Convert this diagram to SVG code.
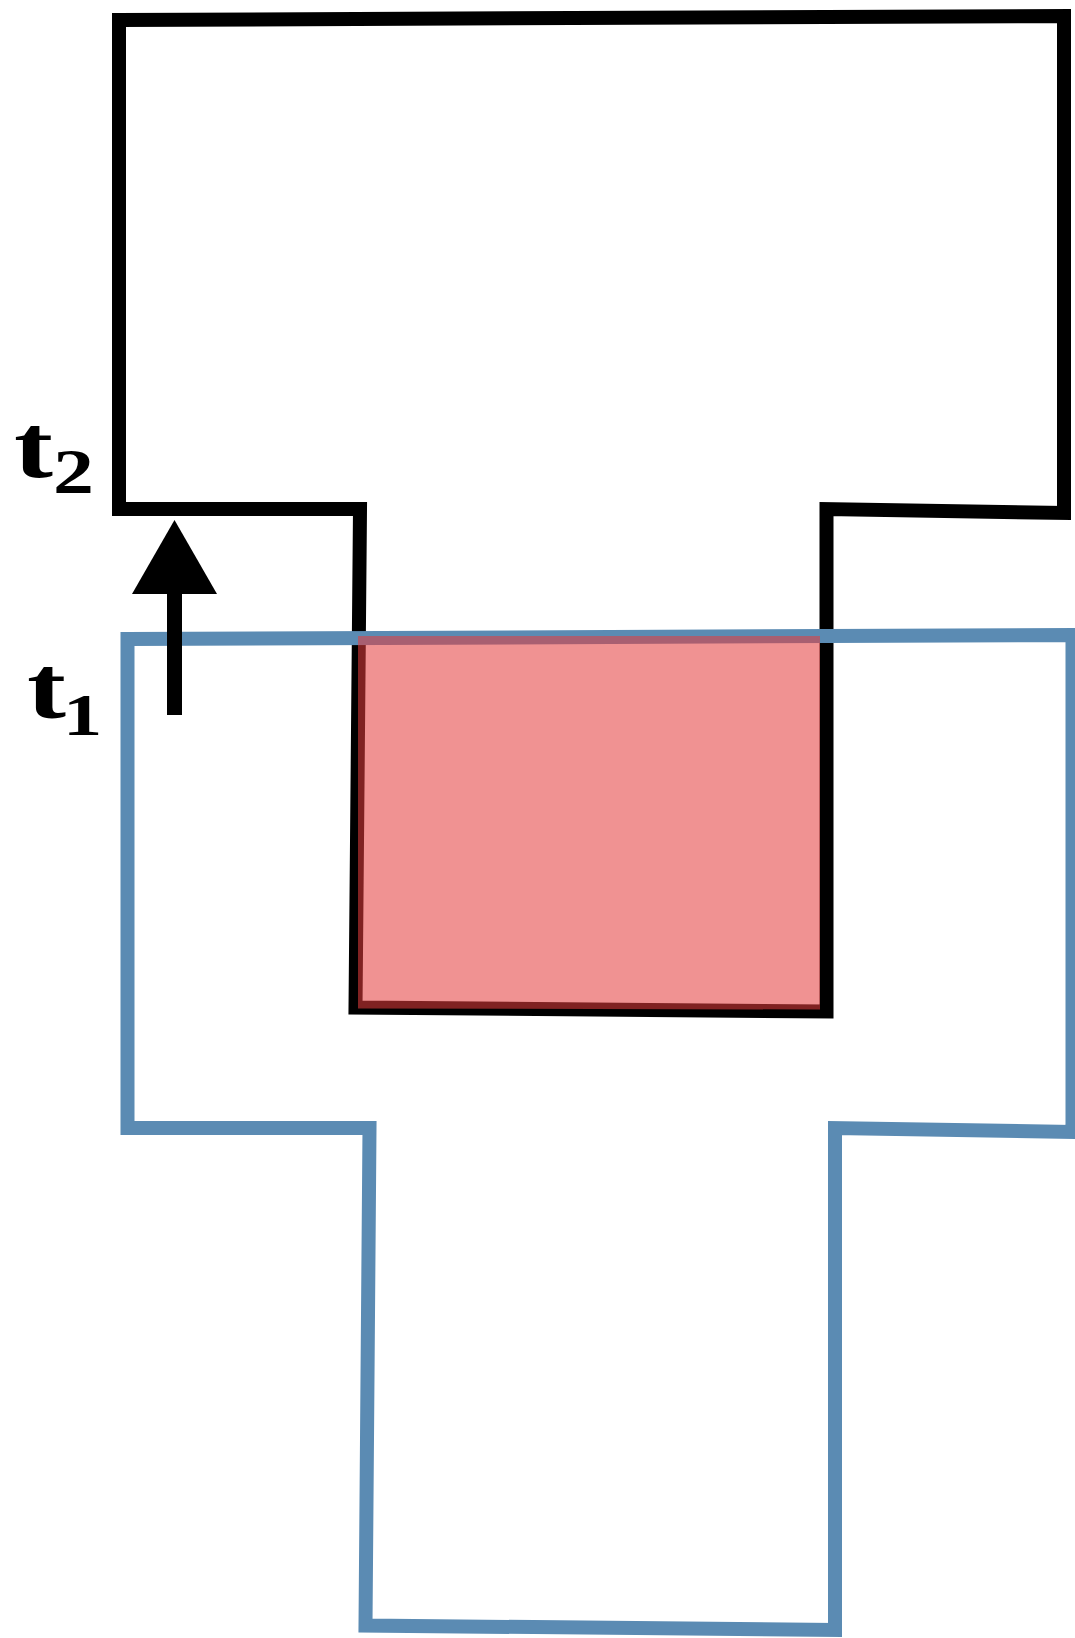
<svg xmlns="http://www.w3.org/2000/svg" width="1075" height="1638" viewBox="0 0 1075 1638">
  <style>
    .outline { fill: none; stroke-width: 14; stroke-linejoin: miter; stroke-miterlimit: 10; }
    .t2shape { stroke: #000000; }
    .t1shape { stroke: #5b8bb3; }
    .overlap { fill: rgb(228,60,60); fill-opacity: 0.56; stroke: none; }
    .lbl { font-family: "Liberation Serif", "Times New Roman", serif; font-weight: bold; fill: #000000; }
  </style>
  <rect x="0" y="0" width="1075" height="1638" fill="#ffffff"/>
  <g id="shape-t2">
    <path class="outline t2shape" d="M119,20 L1064,16 L1064,513 L826.5,509 L826.5,1011.5 L355.5,1007.5 L360,509 L119,509 Z"/>
  </g>
  <g id="shape-t1">
    <path class="outline t1shape" d="M127.5,639 L1072.5,635 L1072.5,1132 L835,1128 L835,1630 L365.5,1625.5 L369.5,1128 L127.5,1128 Z"/>
  </g>
  <g id="overlap-region">
    <polygon class="overlap" points="358,636 820,636 820,1009.5 358,1008.5"/>
  </g>
  <g id="connectors">
    <line x1="174.5" y1="715" x2="174.5" y2="585" stroke="#000000" stroke-width="15"/>
    <polygon points="174.5,520 217,594 132,594" fill="#000000"/>
  </g>
  <g id="label-t2">
    <text class="lbl" transform="translate(14,0) scale(1.3,1)"><tspan x="0" y="477" font-size="90">t</tspan><tspan x="30" y="493" font-size="63">2</tspan></text>
  </g>
  <g id="label-t1">
    <text class="lbl" transform="translate(27,0) scale(1.33,1)"><tspan x="0" y="717" font-size="88">t</tspan><tspan x="27" y="735" font-size="59">1</tspan></text>
  </g>
</svg>
